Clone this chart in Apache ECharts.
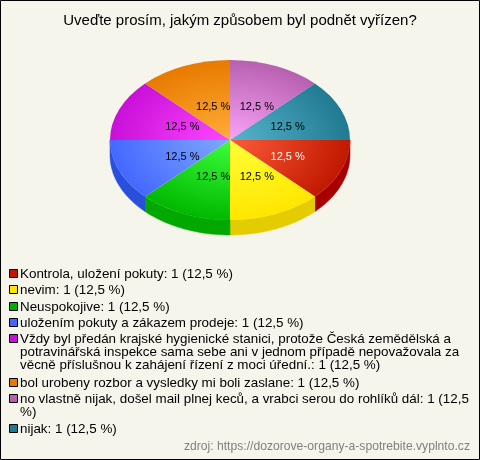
<!DOCTYPE html>
<html><head><meta charset="utf-8">
<style>html,body{margin:0;padding:0;background:#f5f5ec}#c{width:480px;height:460px}</style>
<script src="https://cdn.jsdelivr.net/npm/echarts@6/dist/echarts.min.js"></script>
</head><body><div id="c"></div>
<script>
const titleText = 'Uveďte prosím, jakým způsobem byl podnět vyřízen?';
const sourceText = 'zdroj: https://dozorove-organy-a-spotrebite.vyplnto.cz';
const categories = [
  'Kontrola, uložení pokuty',
  'nevim',
  'Neuspokojive',
  'uložením pokuty a zákazem prodeje',
  'Vždy byl předán krajské hygienické stanici, protože Česká zemědělská a\npotravinářská inspekce sama sebe ani v jednom případě nepovažovala za\nvěcně příslušnou k zahájení řízení z moci úřední.',
  'bol urobeny rozbor a vysledky mi boli zaslane',
  'no vlastně nijak, došel mail plnej keců, a vrabci serou do rohlíků dál',
  'nijak'
];
const values = [1, 1, 1, 1, 1, 1, 1, 1];
const lightColors = ['#ff5a38', '#ffff38', '#3cff3c', '#80a8ff', '#ff48ff', '#ffae38', '#f8a4f8', '#58b4cc'];
const edgeColors  = ['#bf1a00', '#ffe600', '#00b800', '#4468ff', '#c810d8', '#e87a00', '#b860b0', '#1f7a92'];
const sideColors  = ['#a80000', '#e3cc00', '#00a800', '#2850dc', '#a000a8', '#b05800', '#884880', '#145a6c'];
const legendColors = ['#c01800', '#ffe600', '#00b000', '#4468ff', '#c810d8', '#e87a00', '#b860b0', '#1f7a92'];
const labelColors = ['#ffffff', '#000000', '#000000', '#000000', '#000000', '#000000', '#000000', '#000000'];

const total = values.reduce((a, b) => a + b, 0);
const pct = v => String(Math.round(v / total * 1000) / 10).replace('.', ',') + ' %';
const FONT = '"Liberation Sans", Arial, sans-serif';
const CX = 230, CY = 140, R = 120, SQUASH = 2 / 3, DEPTH = 15;

function renderItem(params, api) {
  const i = params.dataIndex;
  let before = 0;
  for (let k = 0; k < i; k++) before += values[k];
  const a0 = before / total * Math.PI * 2;
  const a1 = (before + api.value(0)) / total * Math.PI * 2;
  const mid = (a0 + a1) / 2;
  const children = [];
  const s0 = a0, s1 = Math.min(a1, Math.PI);
  if (s0 < Math.PI) {
    const top = [], bottom = [];
    for (let n = 0; n <= 24; n++) {
      const t = s0 + (s1 - s0) * n / 24;
      const x = CX + R * Math.cos(t), y = CY + R * SQUASH * Math.sin(t);
      top.push([x, y]);
      bottom.unshift([x, y + DEPTH]);
    }
    children.push({ type: 'polygon', shape: { points: top.concat(bottom) },
      style: { fill: sideColors[i], stroke: sideColors[i], lineWidth: 0.5 } });
  }
  children.push({
    type: 'group', x: CX, y: CY, scaleY: SQUASH,
    children: [{
      type: 'sector',
      shape: { cx: 0, cy: 0, r: R, r0: 0, startAngle: a0, endAngle: a1, clockwise: true },
      style: { fill: { type: 'radial', x: 0, y: 0, r: R, global: true,
        colorStops: [{ offset: 0, color: lightColors[i] }, { offset: 1, color: edgeColors[i] }] } }
    }]
  });
  children.push({
    type: 'text', z2: 10,
    x: CX + 5 + R * 0.475 * Math.cos(mid),
    y: CY + 2 + R * 0.475 * SQUASH * Math.sin(mid),
    style: { text: pct(api.value(0)), fill: labelColors[i], font: '11px ' + FONT, align: 'center', verticalAlign: 'middle' }
  });
  return { type: 'group', children };
}

const legendTops = [268, 284, 301, 317, 333, 377, 393, 423];
const legendEls = [];
categories.forEach((name, i) => {
  const y = legendTops[i];
  let label = name + ': ' + values[i] + ' (' + pct(values[i]) + ')';
  if (i === 6) label = label.replace('(12,5 %)', '(12,5\n%)');
  legendEls.push({ type: 'rect', shape: { x: 9.5, y: y + 1.5, width: 8, height: 8 },
    style: { fill: legendColors[i], stroke: '#000', lineWidth: 1 } });
  legendEls.push({ type: 'text', x: 20, y: y,
    style: { text: label, lineHeight: 13, font: '13.4px ' + FONT, fill: '#000' } });
});

const chart = echarts.init(document.getElementById('c'), null, { renderer: 'canvas', width: 480, height: 460 });
chart.setOption({
  animation: false,
  backgroundColor: '#f5f5ec',
  title: { text: titleText, left: 235, top: 8, textAlign: 'center',
    textStyle: { fontFamily: FONT, fontSize: 15, fontWeight: 'normal', color: '#000' } },
  xAxis: { show: false }, yAxis: { show: false },
  grid: { left: 0, right: 0, top: 0, bottom: 0 },
  series: [{ type: 'custom', coordinateSystem: 'none', renderItem,
    data: values.map((v, i) => ({ name: categories[i], value: [v] })), silent: true }],
  graphic: [
    { type: 'rect', shape: { x: 0.5, y: 0.5, width: 479, height: 459 }, style: { fill: 'none', stroke: '#000', lineWidth: 1 } },
    ...legendEls,
    { type: 'text', right: 10, top: 441, style: { text: sourceText, font: '12.15px ' + FONT, fill: '#808080' } }
  ]
});
</script></body></html>
